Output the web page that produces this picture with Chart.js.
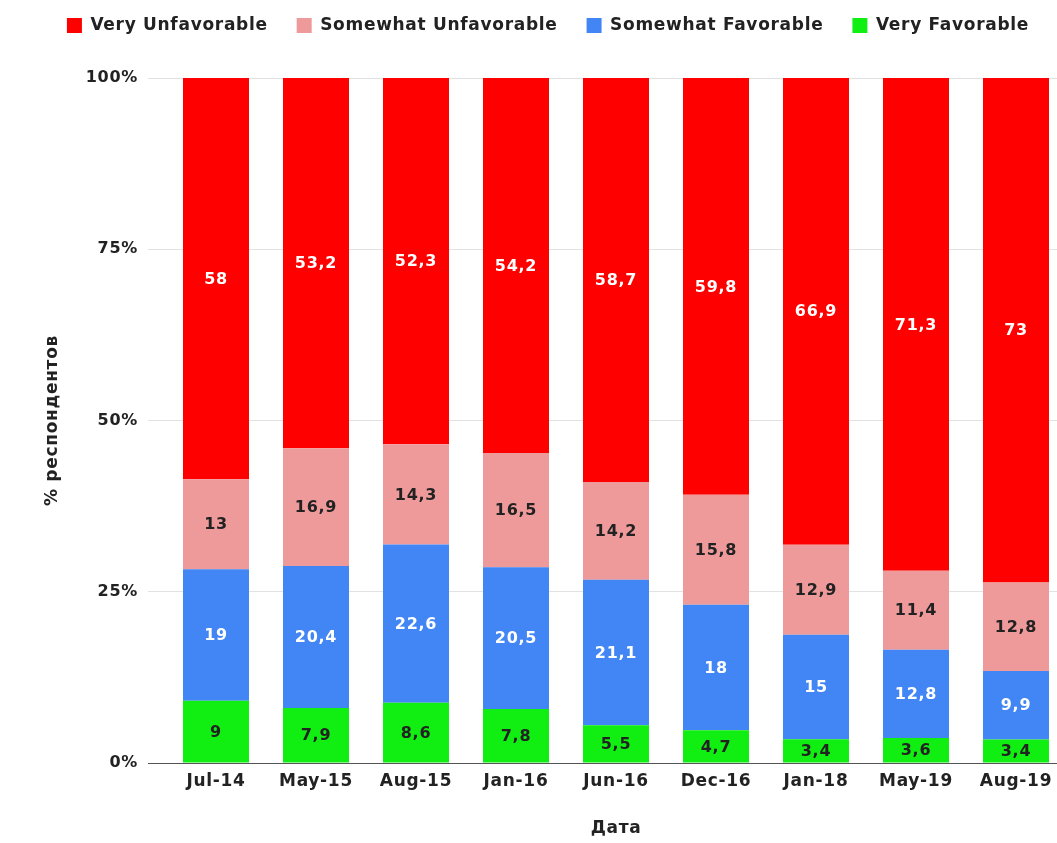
<!DOCTYPE html>
<html>
<head>
<meta charset="utf-8">
<script src="https://cdn.jsdelivr.net/npm/chart.js@4"></script>
<style>
    body { margin: 0; overflow: hidden; background: #fff; }
    #wrap { width: 1075px; height: 843px; position: relative; }
</style>
</head>
<body>
<div id="wrap"><canvas id="chart"></canvas></div>
<script>
// Survey dates
const dates = ['Jul-14', 'May-15', 'Aug-15', 'Jan-16', 'Jun-16', 'Dec-16', 'Jan-18', 'May-19', 'Aug-19'];

// Values as printed on the bars (%)
const veryUnfavorable = [58, 53.2, 52.3, 54.2, 58.7, 59.8, 66.9, 71.3, 73];
const somewhatUnfavorable = [13, 16.9, 14.3, 16.5, 14.2, 15.8, 12.9, 11.4, 12.8];
const somewhatFavorable = [19, 20.4, 22.6, 20.5, 21.1, 18, 15, 12.8, 9.9];
const veryFavorable = [9, 7.9, 8.6, 7.8, 5.5, 4.7, 3.4, 3.6, 3.4];

// Y axis ticks
const yTicks = [0, 25, 50, 75, 100];

// Each column is drawn as a share of its own total (100% stacked chart)
const totals = dates.map((_, i) =>
    veryUnfavorable[i] + somewhatUnfavorable[i] + somewhatFavorable[i] + veryFavorable[i]
);
const toShare = values => values.map((v, i) => v / totals[i] * 100);

const formatValue = v => String(v).replace('.', ',');

// Bottom to top
const series = [
    { label: 'Very Favorable', raw: veryFavorable, color: '#11ee11', text: '#222' },
    { label: 'Somewhat Favorable', raw: somewhatFavorable, color: '#4285f4', text: '#fff' },
    { label: 'Somewhat Unfavorable', raw: somewhatUnfavorable, color: '#ef9a9a', text: '#222' },
    { label: 'Very Unfavorable', raw: veryUnfavorable, color: '#ff0000', text: '#fff' }
];

// Slightly wider letter spacing, like the original rendering
const spacingPlugin = {
    id: 'spacing',
    beforeUpdate(chart) { chart.ctx.letterSpacing = '0.7px'; },
    beforeDraw(chart) { chart.ctx.letterSpacing = '0.7px'; }
};

// One legend row, fixed gap between legend and plot
const legendHeightPlugin = {
    id: 'legendHeight',
    beforeInit(chart) {
        const fit = chart.legend.fit;
        chart.legend.fit = function () {
            this.maxWidth = 1200;
            fit.call(this);
            this.height = 90;
        };
    }
};

// Value labels in the middle of each segment
const valueLabels = {
    id: 'valueLabels',
    afterDatasetsDraw(chart) {
        const ctx = chart.ctx;
        ctx.save();
        ctx.font = 'bold 16px "DejaVu Sans"';
        ctx.textAlign = 'center';
        ctx.textBaseline = 'middle';
        chart.data.datasets.forEach((ds, di) => {
            const meta = chart.getDatasetMeta(di);
            meta.data.forEach((bar, i) => {
                const y = (bar.y + bar.base) / 2;
                ctx.fillStyle = series[di].text;
                ctx.fillText(formatValue(series[di].raw[i]), bar.x, y + 1);
            });
        });
        ctx.restore();
    }
};

Chart.defaults.font.family = '"DejaVu Sans", sans-serif';
Chart.defaults.font.weight = 'bold';
Chart.defaults.color = '#222';

new Chart(document.getElementById('chart'), {
    type: 'bar',
    data: {
        labels: dates,
        datasets: series.map(s => ({
            label: s.label,
            data: toShare(s.raw),
            backgroundColor: s.color,
            borderWidth: 0,
            categoryPercentage: 1,
            barPercentage: 0.66
        }))
    },
    options: {
        responsive: true,
        maintainAspectRatio: false,
        animation: false,
        layout: { padding: { top: -12, left: 30, right: 9, bottom: 0 } },
        plugins: {
            legend: {
                reverse: true,
                labels: {
                    boxWidth: 15,
                    boxHeight: 15,
                    padding: 29,
                    font: { size: 17, weight: 'bold' },
                    color: '#222'
                }
            },
            tooltip: { enabled: false }
        },
        scales: {
            x: {
                stacked: true,
                grid: { display: false, drawTicks: false },
                border: { display: false },
                ticks: { padding: 8, font: { size: 17, weight: 'bold' } },
                title: {
                    display: true,
                    text: 'Дата',
                    font: { size: 17, weight: 'bold' },
                    padding: { top: 0, bottom: 4 }
                },
                afterFit(scale) { scale.height = 80; }
            },
            y: {
                stacked: true,
                min: 0,
                max: 100,
                afterBuildTicks(scale) { scale.ticks = yTicks.map(v => ({ value: v })); },
                grid: {
                    color: c => (c.tick && c.tick.value === 0 ? '#555' : '#e2e2e2'),
                    tickLength: 18
                },
                border: { display: false },
                ticks: {
                    padding: 10,
                    font: { size: 16, weight: 'bold' },
                    callback: v => v + '%'
                },
                title: {
                    display: true,
                    text: '% респондентов',
                    font: { size: 17, weight: 'bold' },
                    padding: { top: 12, bottom: 0 }
                },
                afterFit(scale) { scale.width = 136; }
            }
        }
    },
    plugins: [spacingPlugin, legendHeightPlugin, valueLabels]
});
</script>
</body>
</html>
